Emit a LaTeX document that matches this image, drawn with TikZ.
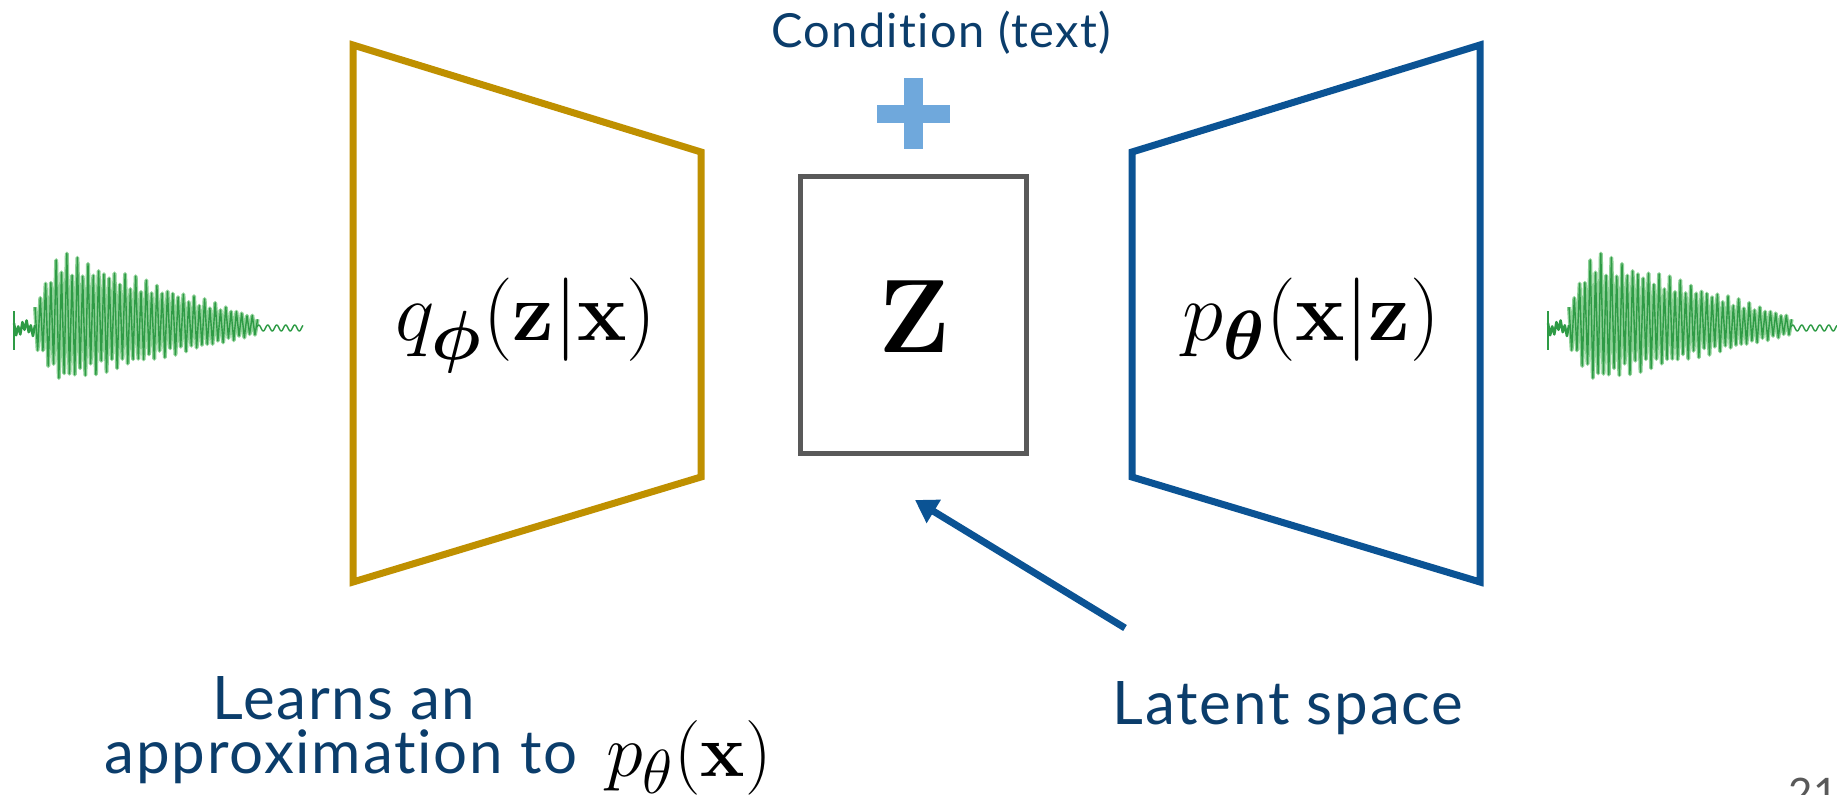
\documentclass[tikz,border=0pt]{standalone}
\usepackage{bm}
\usepackage[no-math]{fontspec}
\setmainfont{Lato}[Ligatures=NoCommon, LetterSpace=3]
\usetikzlibrary{arrows.meta}
\definecolor{gold}{HTML}{BF9000}
\definecolor{navy}{HTML}{0B5394}
\definecolor{boxgray}{HTML}{595959}
\definecolor{txtblue}{HTML}{0B3D6B}
\definecolor{plusblue}{HTML}{6FA8DC}
\definecolor{wavedark}{HTML}{2E9B45}
\definecolor{wavelight}{HTML}{8FD198}
\tikzset{
  trap/.style={line width=7pt, line join=miter},
  caption/.style={text=txtblue, inner sep=0pt, anchor=base},
  mathlabel/.style={inner sep=0pt, anchor=base, text=black},
  wavelt/.style={wavelight, line width=4pt, line join=round},
  wavedk/.style={wavedark, line width=1.4pt, line join=round},
}
\newcommand{\bigmath}[2]{\scalebox{#1}{\fontsize{24.88}{30}\selectfont $#2$}}
\newcommand{\drawwave}[1]{%
  \begin{scope}[shift={(#1,0)}]
    \draw[wavelt] plot[domain=0:84, samples=85, variable=\t]
      ({35+2.65*\t},
       {328 - (0.86+0.14*sin(\t*97))*min(1,(2.65*\t+10)/35)*((85-0.33*2.65*\t)*(1+cos(180*\t))/2 - (62-0.25*2.65*\t)*(1-cos(180*\t))/2)});
    \draw[wavedk] plot[domain=0:84, samples=85, variable=\t]
      ({35+2.65*\t},
       {328 - (0.86+0.14*sin(\t*97))*min(1,(2.65*\t+10)/35)*((85-0.33*2.65*\t)*(1+cos(180*\t))/2 - (62-0.25*2.65*\t)*(1-cos(180*\t))/2)});
    \draw[wavedk, line width=2.5pt] plot[domain=0:10, samples=11, variable=\t]
      ({14+2.1*\t}, {328 - 8*cos(180*\t)*(0.6+0.4*sin(\t*130))});
    \draw[wavedk, line width=1.8pt] (14,311) -- (14,350);
    \draw[wavedk] plot[domain=257:303, samples=70, variable=\x]
      (\x, {328 + 3*sin(\x*40)});
  \end{scope}}
\begin{document}
\begin{tikzpicture}[x=1pt, y=-1pt]
\useasboundingbox[fill=white] (0,0) rectangle (1837,795);

% waveforms
\drawwave{0}
\drawwave{1534}

% encoder / decoder
\draw[trap, gold] (353,45) -- (701,152) -- (701,477) -- (353,582) -- cycle;
\draw[trap, navy] (1132,152) -- (1480,45) -- (1480,582) -- (1132,477) -- cycle;

% latent box
\node[draw=boxgray, line width=5pt, minimum width=226pt, minimum height=277pt,
      inner sep=0pt, outer sep=0pt] (zbox) at (913,314.5) {};

% math labels
\node[mathlabel] (qlab) at (526,340)
  {\bigmath{3.35}{q_{\bm{\phi}}(\mathbf{z}|\mathbf{x})}};
\node[mathlabel] (plab) at (1311,340)
  {\bigmath{3.35}{p_{\bm{\theta}}(\mathbf{x}|\mathbf{z})}};
\node[mathlabel] (zlab) at (914,352)
  {\bigmath{4.2}{\mathbf{Z}}};

% plus sign
\fill[plusblue] (877,105) rectangle (950,123);
\fill[plusblue] (904,78) rectangle (923,149);

% captions
\node[caption, font=\fontsize{47}{56}\selectfont] (cond) at (941,47) {Condition (text)};
\node[caption, font=\fontsize{60}{72}\selectfont] (latent) at (1288,724) {Latent space};
\node[caption, font=\fontsize{60}{72}\selectfont] (learn1) at (344,719) {Learns an};
\node[caption, font=\fontsize{60}{72}\selectfont] (learn2) at (341,773) {approximation to};
\node[mathlabel] (pxlab) at (689,776)
  {\bigmath{3.0}{p_{\theta}(\mathbf{x})}};

% arrow
\coordinate (arrowtail) at (1125,628);
\coordinate (arrowtip) at (915,500);
\draw[navy, line width=7pt, -{Triangle[length=22pt, width=26pt]}] (arrowtail) -- (arrowtip);

% page number
\node[inner sep=0pt, anchor=base west, text=boxgray, font=\fontsize{42}{50}\selectfont]
  (pagenum) at (1788,808) {21};
\end{tikzpicture}
\end{document}
